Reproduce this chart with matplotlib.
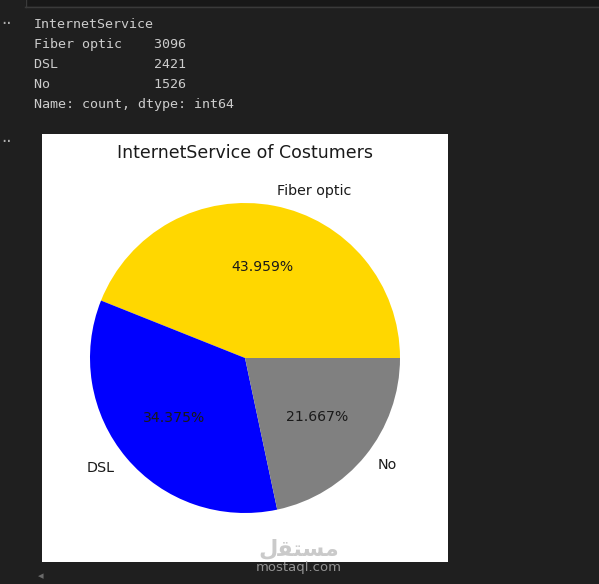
import matplotlib.pyplot as plt
from matplotlib.patches import Rectangle
from matplotlib.lines import Line2D

# data
services = ["Fiber optic", "DSL", "No"]
counts = [3096, 2421, 1526]
colors = ["gold", "blue", "gray"]

W, H = 599, 584
bg = "#1f1f1f"

fig = plt.figure(figsize=(W / 100, H / 100), dpi=100, facecolor=bg)


def fx(x):
    return x / W


def fy(y):
    return 1 - y / H


# top editor strip of previous cell
fig.patches.append(Rectangle((fx(25), fy(6)), 1 - fx(25), 6 / H, transform=fig.transFigure,
                             facecolor="#181818", edgecolor="none", zorder=-2))
fig.add_artist(Line2D([fx(25), 1], [fy(6.5), fy(6.5)], transform=fig.transFigure, color="#3a3a3a", lw=1))
fig.add_artist(Line2D([fx(25.5), fx(25.5)], [fy(6.5), 1], transform=fig.transFigure, color="#3a3a3a", lw=1))

# text output of value_counts()
out_lines = ["InternetService"]
for s, c in zip(services, counts):
    out_lines.append(f"{s:<15}{c}")
out_lines.append("Name: count, dtype: int64")
for i, line in enumerate(out_lines):
    fig.text(fx(34), fy(25 + i * 19.8), line, color="#cccccc", fontsize=9.6,
             family="DejaVu Sans Mono", va="center", ha="left")

fig.text(fx(1), fy(24), "··", color="#b0b0b0", fontsize=12, va="center", ha="left")
fig.text(fx(1), fy(142), "··", color="#b0b0b0", fontsize=12, va="center", ha="left")

# white image area
fig.patches.append(Rectangle((fx(42), fy(562)), (448 - 42) / W, (562 - 134) / H,
                             transform=fig.transFigure, facecolor="white", edgecolor="none",
                             zorder=-1))

# pie
cx, cy, r = 245, 358, 155
side = 2 * r * 1.25
ax = fig.add_axes([fx(cx - side / 2), fy(cy + side / 2), side / W, side / H])
wedges, texts, autotexts = ax.pie(counts, labels=services, colors=colors, autopct="%1.3f%%",
                                  textprops={"fontsize": 10.3, "color": "#1a1a1a"})
for t in autotexts:
    t.set_fontsize(10.1)
ax.set_xlim(-1.25, 1.25)
ax.set_ylim(-1.25, 1.25)
fig.text(fx(cx), fy(153), "InternetService of Costumers", fontsize=12.5,
         ha="center", va="center", color="#1a1a1a")

# watermark
fig.text(fx(299), fy(549), "\ufedd\ufed8\ufe98\ufeb4\ufee3", fontsize=16, color="#b4b4b4",
         alpha=0.7, ha="center", va="center", weight="bold")
fig.text(fx(299), fy(567), "mostaql.com", fontsize=9.5, color="#a8a8a8",
         alpha=0.85, ha="center", va="center")

fig.text(fx(41), fy(576), "◂", fontsize=8, color="#6a6a6a", ha="center", va="center")

fig.savefig("out.png", dpi=100, facecolor=bg)
